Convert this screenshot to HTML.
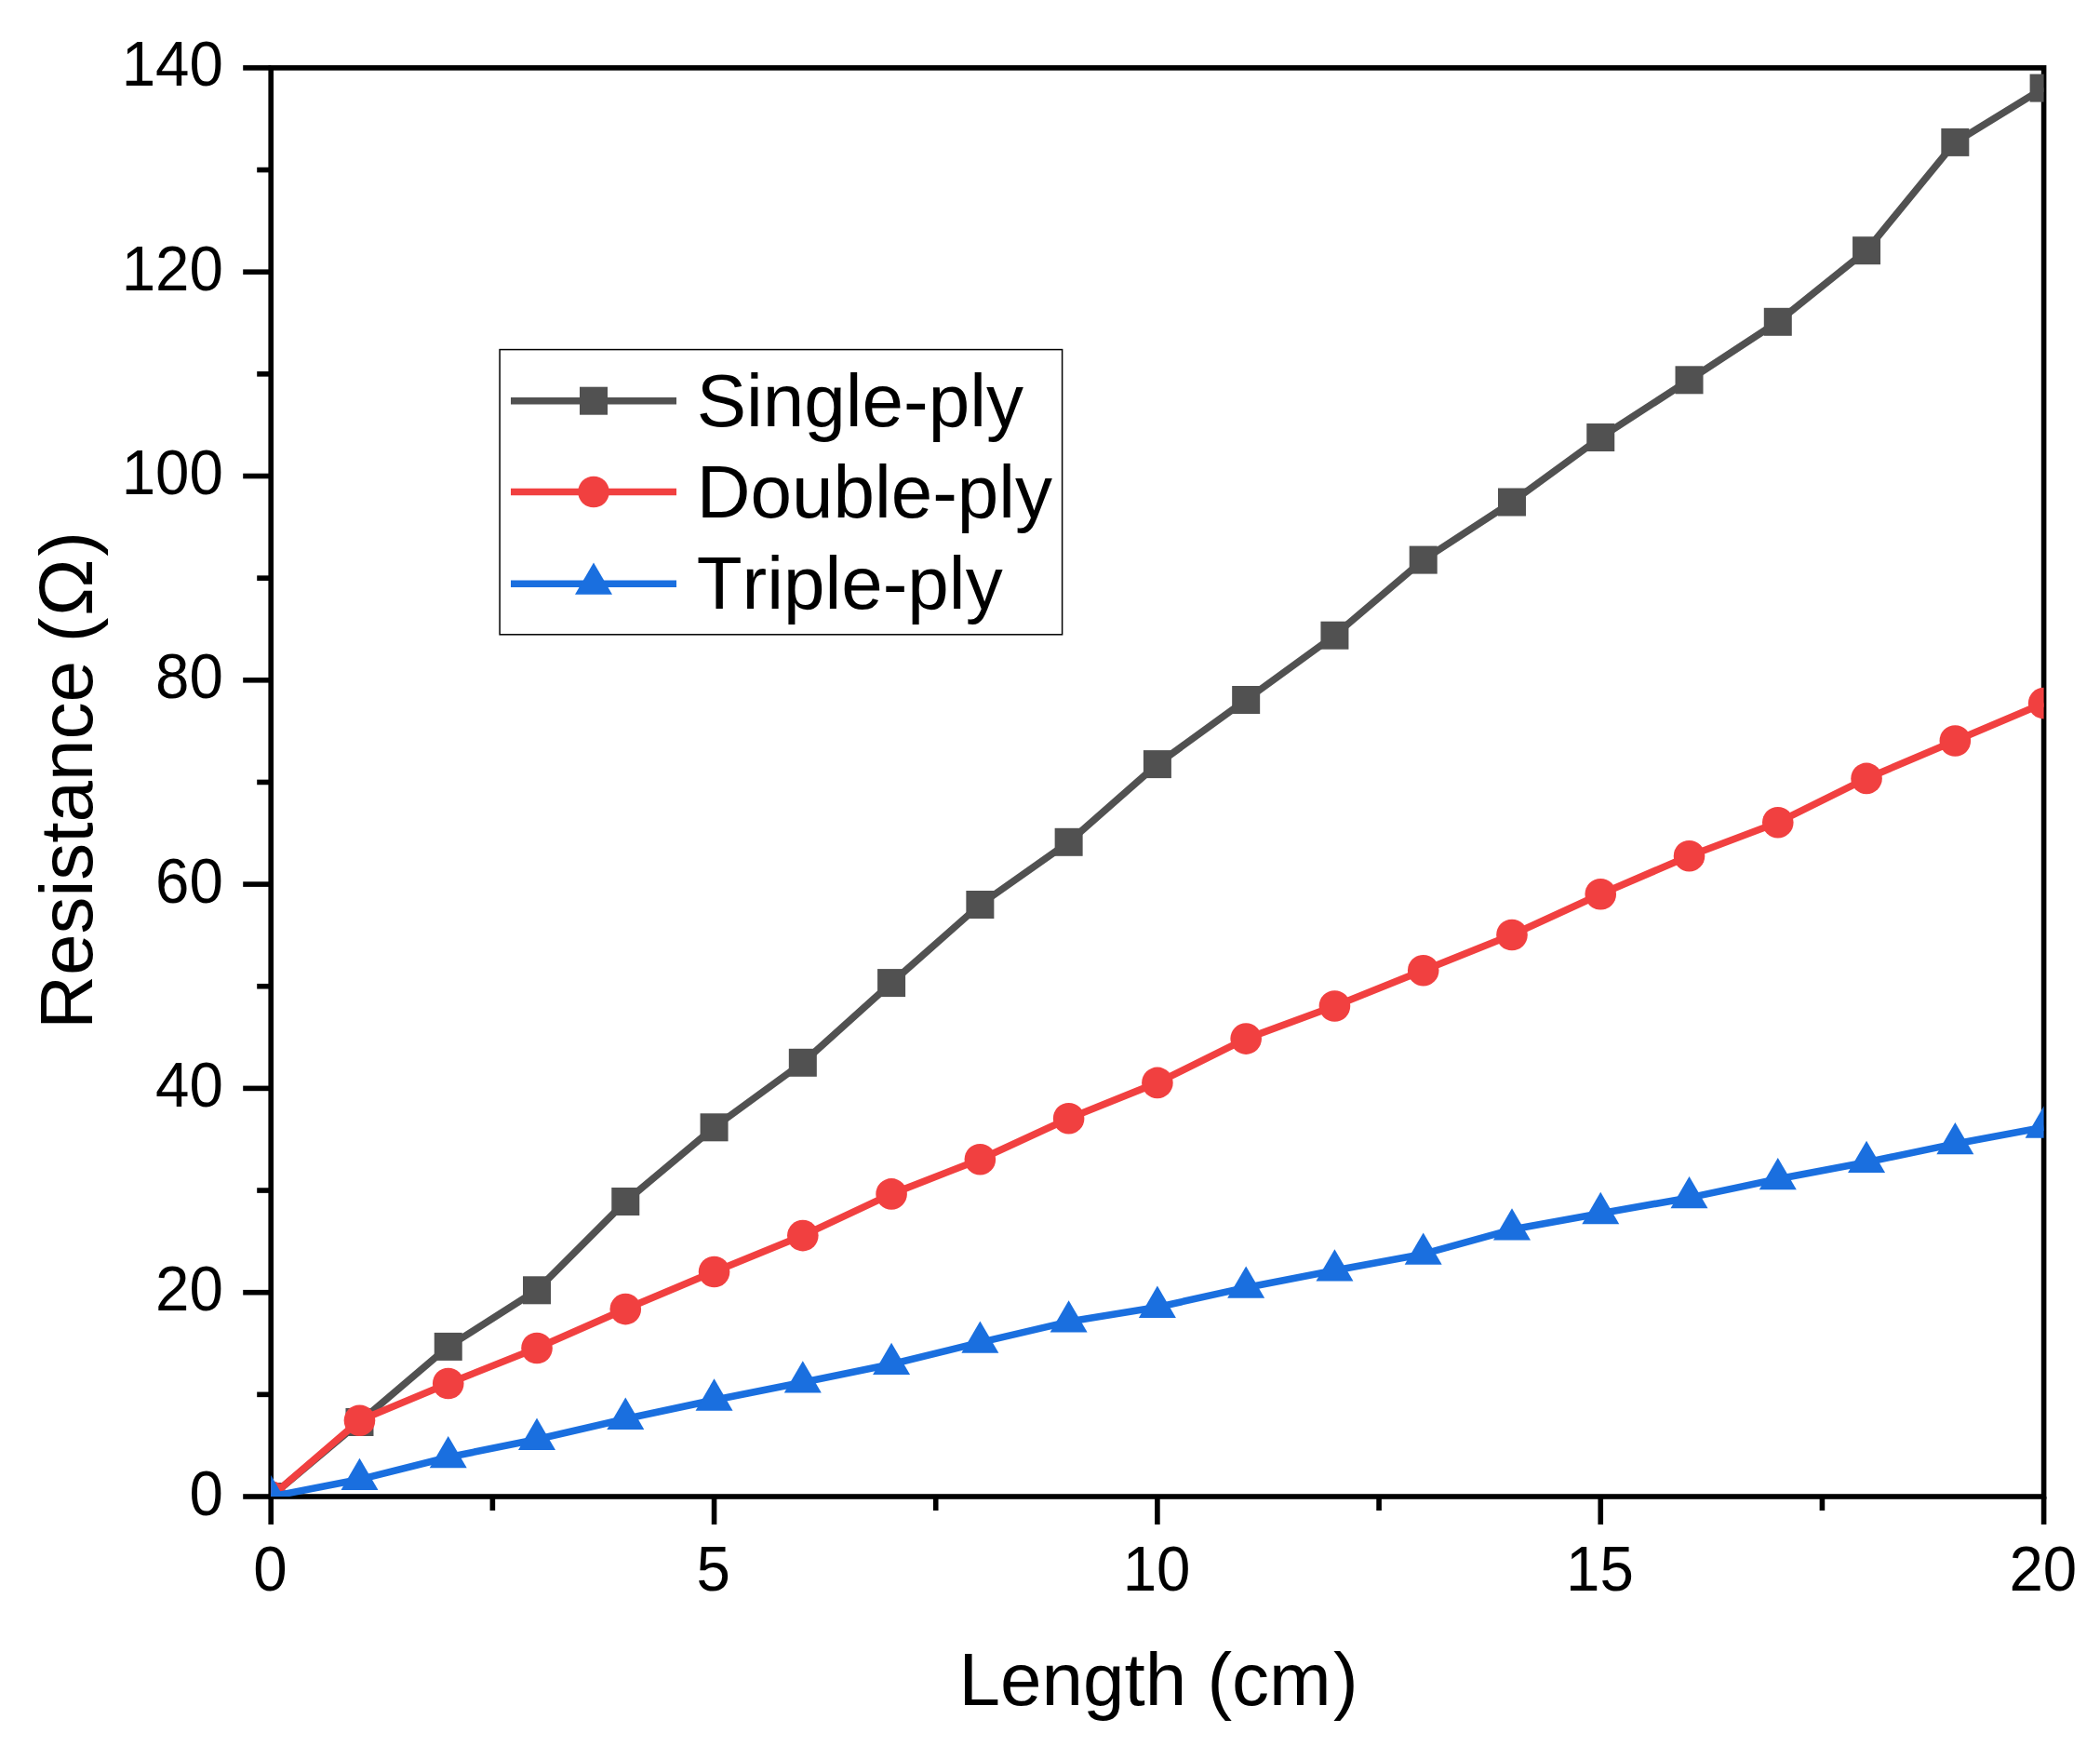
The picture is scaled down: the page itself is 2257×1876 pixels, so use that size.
<!DOCTYPE html>
<html lang="en"><head><meta charset="utf-8"><title>Resistance vs Length</title>
<style>html,body{margin:0;padding:0;background:#fff}body{width:2257px;height:1876px;overflow:hidden}svg{display:block}text{font-family:"Liberation Sans",Arial,Helvetica,sans-serif;fill:#000;font-kerning:none;white-space:pre}</style></head><body>
<svg xmlns="http://www.w3.org/2000/svg" width="2257" height="1876" viewBox="0 0 2257 1876">
<rect x="0" y="0" width="2257" height="1876" fill="#fff"/>
<defs><clipPath id="plot"><rect x="291.20" y="72.90" width="1905.40" height="1535.10"/></clipPath></defs>
<g stroke="#000" stroke-width="5.60" fill="none" stroke-linecap="butt">
<rect x="291.20" y="72.90" width="1905.40" height="1535.10"/>
<line x1="261.20" y1="1608.00" x2="291.20" y2="1608.00"/>
<line x1="276.20" y1="1498.35" x2="291.20" y2="1498.35"/>
<line x1="261.20" y1="1388.70" x2="291.20" y2="1388.70"/>
<line x1="276.20" y1="1279.05" x2="291.20" y2="1279.05"/>
<line x1="261.20" y1="1169.40" x2="291.20" y2="1169.40"/>
<line x1="276.20" y1="1059.75" x2="291.20" y2="1059.75"/>
<line x1="261.20" y1="950.10" x2="291.20" y2="950.10"/>
<line x1="276.20" y1="840.45" x2="291.20" y2="840.45"/>
<line x1="261.20" y1="730.80" x2="291.20" y2="730.80"/>
<line x1="276.20" y1="621.15" x2="291.20" y2="621.15"/>
<line x1="261.20" y1="511.50" x2="291.20" y2="511.50"/>
<line x1="276.20" y1="401.85" x2="291.20" y2="401.85"/>
<line x1="261.20" y1="292.20" x2="291.20" y2="292.20"/>
<line x1="276.20" y1="182.55" x2="291.20" y2="182.55"/>
<line x1="261.20" y1="72.90" x2="291.20" y2="72.90"/>
<line x1="291.20" y1="1608.00" x2="291.20" y2="1638.00"/>
<line x1="529.38" y1="1608.00" x2="529.38" y2="1623.00"/>
<line x1="767.55" y1="1608.00" x2="767.55" y2="1638.00"/>
<line x1="1005.72" y1="1608.00" x2="1005.72" y2="1623.00"/>
<line x1="1243.90" y1="1608.00" x2="1243.90" y2="1638.00"/>
<line x1="1482.08" y1="1608.00" x2="1482.08" y2="1623.00"/>
<line x1="1720.25" y1="1608.00" x2="1720.25" y2="1638.00"/>
<line x1="1958.42" y1="1608.00" x2="1958.42" y2="1623.00"/>
<line x1="2196.60" y1="1608.00" x2="2196.60" y2="1638.00"/>
</g>
<g clip-path="url(#plot)">
<polyline points="291.20,1608.00 386.47,1528.00 481.74,1446.90 577.01,1386.30 672.28,1291.00 767.55,1211.30 862.82,1141.80 958.09,1056.10 1053.36,972.00 1148.63,904.80 1243.90,821.10 1339.17,752.00 1434.44,682.70 1529.71,601.60 1624.98,539.50 1720.25,470.00 1815.52,408.30 1910.79,345.80 2006.06,269.20 2101.33,152.90 2196.60,94.60" fill="none" stroke="#515151" stroke-width="7.60" stroke-linejoin="round"/>
<g fill="#515151">
<rect x="276.20" y="1593.00" width="30" height="30"/>
<rect x="371.47" y="1513.00" width="30" height="30"/>
<rect x="466.74" y="1431.90" width="30" height="30"/>
<rect x="562.01" y="1371.30" width="30" height="30"/>
<rect x="657.28" y="1276.00" width="30" height="30"/>
<rect x="752.55" y="1196.30" width="30" height="30"/>
<rect x="847.82" y="1126.80" width="30" height="30"/>
<rect x="943.09" y="1041.10" width="30" height="30"/>
<rect x="1038.36" y="957.00" width="30" height="30"/>
<rect x="1133.63" y="889.80" width="30" height="30"/>
<rect x="1228.90" y="806.10" width="30" height="30"/>
<rect x="1324.17" y="737.00" width="30" height="30"/>
<rect x="1419.44" y="667.70" width="30" height="30"/>
<rect x="1514.71" y="586.60" width="30" height="30"/>
<rect x="1609.98" y="524.50" width="30" height="30"/>
<rect x="1705.25" y="455.00" width="30" height="30"/>
<rect x="1800.52" y="393.30" width="30" height="30"/>
<rect x="1895.79" y="330.80" width="30" height="30"/>
<rect x="1991.06" y="254.20" width="30" height="30"/>
<rect x="2086.33" y="137.90" width="30" height="30"/>
<rect x="2181.60" y="79.60" width="30" height="30"/>
</g>
<polyline points="291.20,1608.00 386.47,1526.20 481.74,1486.50 577.01,1448.50 672.28,1406.60 767.55,1366.50 862.82,1327.60 958.09,1282.90 1053.36,1245.70 1148.63,1201.70 1243.90,1163.40 1339.17,1116.10 1434.44,1081.00 1529.71,1042.70 1624.98,1004.50 1720.25,960.75 1815.52,919.70 1910.79,883.70 2006.06,836.40 2101.33,796.00 2196.60,755.60" fill="none" stroke="#F14040" stroke-width="7.60" stroke-linejoin="round"/>
<g fill="#F14040">
<circle cx="291.20" cy="1608.00" r="16.8"/>
<circle cx="386.47" cy="1526.20" r="16.8"/>
<circle cx="481.74" cy="1486.50" r="16.8"/>
<circle cx="577.01" cy="1448.50" r="16.8"/>
<circle cx="672.28" cy="1406.60" r="16.8"/>
<circle cx="767.55" cy="1366.50" r="16.8"/>
<circle cx="862.82" cy="1327.60" r="16.8"/>
<circle cx="958.09" cy="1282.90" r="16.8"/>
<circle cx="1053.36" cy="1245.70" r="16.8"/>
<circle cx="1148.63" cy="1201.70" r="16.8"/>
<circle cx="1243.90" cy="1163.40" r="16.8"/>
<circle cx="1339.17" cy="1116.10" r="16.8"/>
<circle cx="1434.44" cy="1081.00" r="16.8"/>
<circle cx="1529.71" cy="1042.70" r="16.8"/>
<circle cx="1624.98" cy="1004.50" r="16.8"/>
<circle cx="1720.25" cy="960.75" r="16.8"/>
<circle cx="1815.52" cy="919.70" r="16.8"/>
<circle cx="1910.79" cy="883.70" r="16.8"/>
<circle cx="2006.06" cy="836.40" r="16.8"/>
<circle cx="2101.33" cy="796.00" r="16.8"/>
<circle cx="2196.60" cy="755.60" r="16.8"/>
</g>
<polyline points="291.20,1608.00 386.47,1589.60 481.74,1565.80 577.01,1546.50 672.28,1524.50 767.55,1504.25 862.82,1485.20 958.09,1465.70 1053.36,1442.40 1148.63,1420.10 1243.90,1404.50 1339.17,1383.40 1434.44,1365.10 1529.71,1347.40 1624.98,1321.10 1720.25,1303.75 1815.52,1286.90 1910.79,1266.80 2006.06,1248.70 2101.33,1228.90 2196.60,1211.30" fill="none" stroke="#1A6FDF" stroke-width="7.60" stroke-linejoin="round"/>
<g fill="#1A6FDF">
<polygon points="291.20,1585.10 311.20,1619.40 271.20,1619.40"/>
<polygon points="386.47,1566.70 406.47,1601.00 366.47,1601.00"/>
<polygon points="481.74,1542.90 501.74,1577.20 461.74,1577.20"/>
<polygon points="577.01,1523.60 597.01,1557.90 557.01,1557.90"/>
<polygon points="672.28,1501.60 692.28,1535.90 652.28,1535.90"/>
<polygon points="767.55,1481.35 787.55,1515.65 747.55,1515.65"/>
<polygon points="862.82,1462.30 882.82,1496.60 842.82,1496.60"/>
<polygon points="958.09,1442.80 978.09,1477.10 938.09,1477.10"/>
<polygon points="1053.36,1419.50 1073.36,1453.80 1033.36,1453.80"/>
<polygon points="1148.63,1397.20 1168.63,1431.50 1128.63,1431.50"/>
<polygon points="1243.90,1381.60 1263.90,1415.90 1223.90,1415.90"/>
<polygon points="1339.17,1360.50 1359.17,1394.80 1319.17,1394.80"/>
<polygon points="1434.44,1342.20 1454.44,1376.50 1414.44,1376.50"/>
<polygon points="1529.71,1324.50 1549.71,1358.80 1509.71,1358.80"/>
<polygon points="1624.98,1298.20 1644.98,1332.50 1604.98,1332.50"/>
<polygon points="1720.25,1280.85 1740.25,1315.15 1700.25,1315.15"/>
<polygon points="1815.52,1264.00 1835.52,1298.30 1795.52,1298.30"/>
<polygon points="1910.79,1243.90 1930.79,1278.20 1890.79,1278.20"/>
<polygon points="2006.06,1225.80 2026.06,1260.10 1986.06,1260.10"/>
<polygon points="2101.33,1206.00 2121.33,1240.30 2081.33,1240.30"/>
<polygon points="2196.60,1188.40 2216.60,1222.70 2176.60,1222.70"/>
</g>
</g>
<rect x="537.1" y="375.6" width="604.5" height="306.2" fill="#fff" stroke="#000" stroke-width="1.5"/>
<line x1="549" y1="430.70" x2="727" y2="430.70" stroke="#515151" stroke-width="7.60"/>
<g fill="#515151"><rect x="623.00" y="415.70" width="30" height="30"/></g>
<text x="748.7" y="458.30" font-size="80">Single-ply</text>
<line x1="549" y1="528.50" x2="727" y2="528.50" stroke="#F14040" stroke-width="7.60"/>
<g fill="#F14040"><circle cx="638.00" cy="528.50" r="16.8"/></g>
<text x="748.7" y="556.00" font-size="80">Double-ply</text>
<line x1="549" y1="627.30" x2="727" y2="627.30" stroke="#1A6FDF" stroke-width="7.60"/>
<g fill="#1A6FDF"><polygon points="638.00,604.40 658.00,638.70 618.00,638.70"/></g>
<text x="748.7" y="654.10" font-size="80">Triple-ply</text>
<text transform="translate(239.9,1627.50) scale(1,1.040)" font-size="65.45" text-anchor="end">0</text>
<text transform="translate(239.9,1408.20) scale(1,1.040)" font-size="65.45" text-anchor="end">20</text>
<text transform="translate(239.9,1188.90) scale(1,1.040)" font-size="65.45" text-anchor="end">40</text>
<text transform="translate(239.9,969.60) scale(1,1.040)" font-size="65.45" text-anchor="end">60</text>
<text transform="translate(239.9,750.30) scale(1,1.040)" font-size="65.45" text-anchor="end">80</text>
<text transform="translate(239.9,531.00) scale(1,1.040)" font-size="65.45" text-anchor="end">100</text>
<text transform="translate(239.9,311.70) scale(1,1.040)" font-size="65.45" text-anchor="end">120</text>
<text transform="translate(239.9,92.40) scale(1,1.040)" font-size="65.45" text-anchor="end">140</text>
<text transform="translate(290.40,1709) scale(1,1.040)" font-size="65.45" text-anchor="middle">0</text>
<text transform="translate(766.75,1709) scale(1,1.040)" font-size="65.45" text-anchor="middle">5</text>
<text transform="translate(1243.10,1709) scale(1,1.040)" font-size="65.45" text-anchor="middle">10</text>
<text transform="translate(1719.45,1709) scale(1,1.040)" font-size="65.45" text-anchor="middle">15</text>
<text transform="translate(2195.80,1709) scale(1,1.040)" font-size="65.45" text-anchor="middle">20</text>
<text x="1245.05" y="1832" font-size="80" text-anchor="middle">Length (cm<tspan dx="2.3">)</tspan></text>
<text transform="translate(99.0,1105.7) rotate(-90)" font-size="80">Resistance <tspan dx="-2.4">(</tspan><tspan dx="1.6" font-size="82.4">Ω</tspan><tspan dx="2.6">)</tspan></text>
</svg></body></html>
